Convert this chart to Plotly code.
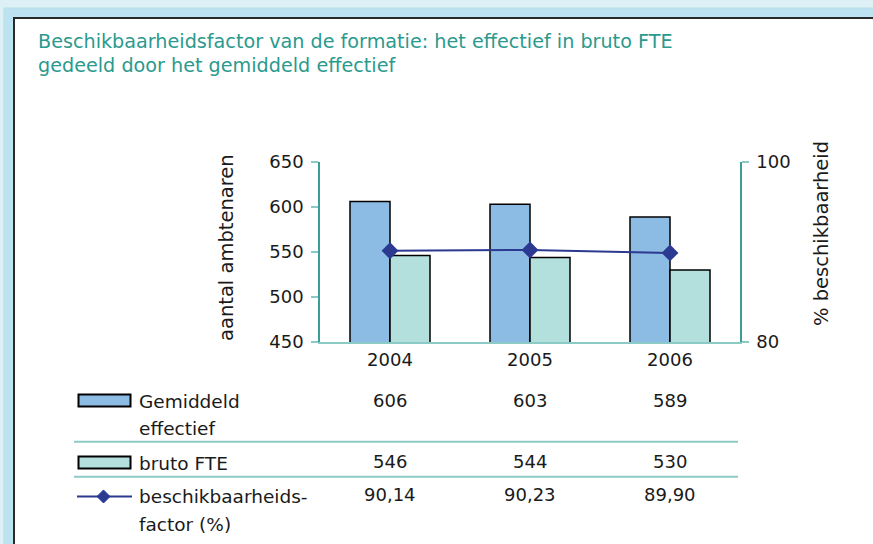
import plotly.graph_objects as go

# ---- data ----
years = ["2004", "2005", "2006"]
gemiddeld_effectief = [606, 603, 589]
bruto_fte = [546, 544, 530]
factor_pct = [90.14, 90.23, 89.90]

left_ticks = [450, 500, 550, 600, 650]
right_ticks = [80, 100]

title_lines = ["Beschikbaarheidsfactor van de formatie: het effectief in bruto FTE",
               "gedeeld door het gemiddeld effectief"]
y_title = "aantal ambtenaren"
y2_title = "% beschikbaarheid"
legend_labels = [["Gemiddeld", "effectief"], ["bruto FTE"], ["beschikbaarheids-", "factor (%)"]]

# ---- styling ----
W, H = 873, 544
L, R, T, B = 320, 740, 162, 342
PW, PH = R - L, B - T
FONT = "DejaVu Sans"
TEAL_TXT = "#2b9a8e"
BLUE = "#8cbce4"
MINT = "#b3e0dd"
NAVY = "#2b3990"
AXIS = "#3a9e96"
LIGHTAXIS = "#8ccac6"
TXT = "#1a1a1a"


def px(x):
    return (x - L) / PW


def py(y):
    return (B - y) / PH


fig = go.Figure()
fig.add_trace(go.Bar(x=years, y=gemiddeld_effectief, name="Gemiddeld effectief",
                     marker=dict(color=BLUE, line=dict(color="black", width=1.5))))
fig.add_trace(go.Bar(x=years, y=bruto_fte, name="bruto FTE",
                     marker=dict(color=MINT, line=dict(color="black", width=1.5))))
fig.add_trace(go.Scatter(x=years, y=factor_pct, name="beschikbaarheidsfactor (%)", yaxis="y2",
                         mode="lines+markers", line=dict(color=NAVY, width=2),
                         marker=dict(symbol="diamond", size=13, color=NAVY)))

shapes = []
# frame
shapes.append(dict(type="rect", xref="paper", yref="paper", x0=px(4), x1=px(880), y0=py(8), y1=py(560),
                   fillcolor="#bde3f3", line=dict(color="#b5e0e0", width=1), layer="below"))
shapes.append(dict(type="rect", xref="paper", yref="paper", x0=px(14), x1=px(890), y0=py(18), y1=py(570),
                   fillcolor="white", line=dict(color="#2a2a2a", width=2), layer="below"))
# table dividers
for yy in (441.7, 476.7):
    shapes.append(dict(type="line", xref="paper", yref="paper", x0=px(74), x1=px(738), y0=py(yy), y1=py(yy),
                       line=dict(color=LIGHTAXIS, width=2)))
# legend icons
shapes.append(dict(type="rect", xref="paper", yref="paper", x0=px(78.5), x1=px(130.5), y0=py(394.5), y1=py(406.5),
                   fillcolor=BLUE, line=dict(color="black", width=2)))
shapes.append(dict(type="rect", xref="paper", yref="paper", x0=px(78.5), x1=px(130.5), y0=py(456.5), y1=py(468.5),
                   fillcolor=MINT, line=dict(color="black", width=2)))
shapes.append(dict(type="line", xref="paper", yref="paper", x0=px(77), x1=px(132), y0=py(496.5), y1=py(496.5),
                   line=dict(color=NAVY, width=2)))
cx, cy = 103.5, 496.5
shapes.append(dict(type="path", xref="paper", yref="paper",
                   path=f"M {px(cx-6.5)},{py(cy)} L {px(cx)},{py(cy-6.5)} L {px(cx+6.5)},{py(cy)} L {px(cx)},{py(cy+6.5)} Z",
                   fillcolor=NAVY, line=dict(color=NAVY, width=1)))

ann = []
ann.append(dict(text=title_lines[0], xref="paper", yref="paper", x=px(36), y=py(42), xanchor="left", yanchor="middle",
                showarrow=False, font=dict(family=FONT, size=19.2, color=TEAL_TXT)))
ann.append(dict(text=title_lines[1], xref="paper", yref="paper", x=px(36), y=py(66), xanchor="left", yanchor="middle",
                showarrow=False, font=dict(family=FONT, size=19.2, color=TEAL_TXT)))
ann.append(dict(text=y_title, xref="paper", yref="paper", x=px(226), y=py(248), textangle=-90,
                xanchor="center", yanchor="middle", showarrow=False, font=dict(family=FONT, size=19.5, color=TXT)))
ann.append(dict(text=y2_title, xref="paper", yref="paper", x=px(821), y=py(234), textangle=-90,
                xanchor="center", yanchor="middle", showarrow=False, font=dict(family=FONT, size=19.5, color=TXT)))

label_rows = [[401.5, 428.5], [463.5], [496.5, 524.5]]
for lines, ys in zip(legend_labels, label_rows):
    for t, yy in zip(lines, ys):
        ann.append(dict(text=t, xref="paper", yref="paper", x=px(137), y=py(yy), xanchor="left", yanchor="middle",
                        showarrow=False, font=dict(family=FONT, size=18.5, color=TXT)))

value_rows = [
    ([str(v) for v in gemiddeld_effectief], 400.5),
    ([str(v) for v in bruto_fte], 461.5),
    ([f"{v:.2f}".replace(".", ",") for v in factor_pct], 494.5),
]
for vals, yy in value_rows:
    for i, t in enumerate(vals):
        ann.append(dict(text=t, xref="x", yref="paper", x=i, y=py(yy), xanchor="center", yanchor="middle",
                        showarrow=False, font=dict(family=FONT, size=18, color=TXT)))

fig.update_layout(
    width=W, height=H,
    margin=dict(l=L, r=W - R, t=T, b=H - B, pad=0),
    paper_bgcolor="#dcf0f5",
    plot_bgcolor="rgba(0,0,0,0)",
    barmode="group", bargap=0.4286, bargroupgap=0,
    showlegend=False,
    font=dict(family=FONT, size=18, color=TXT),
    xaxis=dict(type="category", range=[-0.5, len(years) - 0.5], showline=True, linecolor=LIGHTAXIS, linewidth=2,
               ticks="", showgrid=False, zeroline=False, tickfont=dict(family=FONT, size=18, color=TXT)),
    yaxis=dict(range=[450, 650], tickvals=left_ticks, showline=True, linecolor=AXIS, linewidth=1.5,
               ticks="outside", ticklen=7, tickwidth=2, tickcolor=LIGHTAXIS, showgrid=False, zeroline=False,
               ticklabelstandoff=4, tickfont=dict(family=FONT, size=18, color=TXT)),
    yaxis2=dict(range=[80, 100], tickvals=right_ticks, overlaying="y", side="right", showline=True,
                linecolor=AXIS, linewidth=1.5, ticks="outside", ticklen=7, tickwidth=2, tickcolor=LIGHTAXIS,
                showgrid=False, zeroline=False, ticklabelstandoff=4,
                tickfont=dict(family=FONT, size=18, color=TXT)),
    shapes=shapes,
    annotations=ann,
)

fig.write_html("out.html", config={"displayModeBar": False},
               post_script="document.body.style.margin='0';document.body.style.background='#dcf0f5';")
